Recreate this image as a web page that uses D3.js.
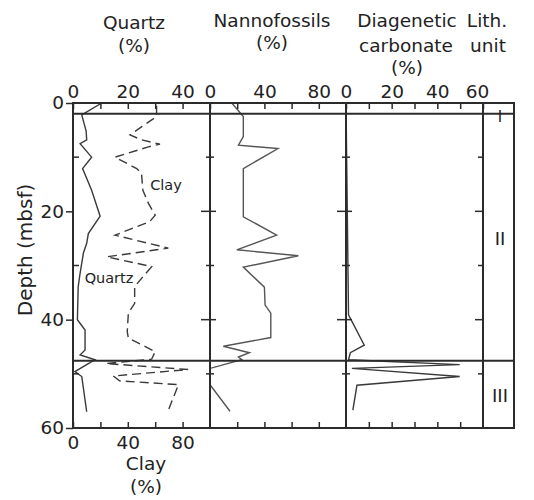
<!DOCTYPE html>
<html>
<head>
<meta charset="utf-8">
<script src="https://cdn.jsdelivr.net/npm/d3@7"></script>
<style>
  body { margin: 0; background: #fff; }
  svg text { font-family: "DejaVu Sans", sans-serif; fill: #222; }
</style>
</head>
<body>
<div id="chart"></div>
<script>
// ---- data (depth in mbsf) ----
var quartzDepth = [0, 2.2, 2.8, 5.2, 6.8, 7.5, 10.0, 12.1, 16.1, 20.9, 24.1, 25.9, 27.7, 31.4, 33.9, 40.0, 41.9, 45.6, 46.5, 47.4, 48.1, 49.6, 50.5, 57.0];
var quartzPct   = [10.5, 3.2, 3.5, 4.8, 5, 2.6, 6.8, 3.5, 6.8, 9.9, 5.6, 5, 3.8, 2.6, 1.9, 1.6, 4.4, 4.4, 2.6, 8, 5.6, 0.7, 3.2, 5];

var clayDepth = [0.5, 2.5, 4.4, 5.9, 6.8, 7.6, 8.1, 10.0, 12.1, 13.0, 16.1, 18.5, 20.7, 21.9, 24.4, 26.8, 28.4, 30.2, 32.7, 33.9, 37.0, 38.8, 42.2, 43.4, 45.9, 47.3, 48.1, 49.2, 50.4, 51.3, 52.0, 56.7];
var clayPct   = [61, 61, 50, 41.6, 50, 63.5, 55, 30.7, 46.5, 50, 51, 55, 60, 56, 30.7, 69.6, 24.6, 57.4, 49, 45, 45, 40.4, 39.6, 40.4, 60, 57.4, 24, 84, 29.4, 34, 77, 69.6];

var nannoDepth = [0, 2.5, 6.2, 7.8, 8.4, 12.1, 21.0, 24.4, 27.1, 28.2, 30.3, 34.0, 37.3, 38.8, 43.3, 44.9, 46.1, 46.9, 47.4, 49.0, 52.0, 56.9];
var nannoPct   = [16, 24.5, 24.5, 20.9, 50, 24.5, 24.5, 49, 19.7, 65, 24.5, 40, 40.5, 44.7, 44.7, 9.8, 29, 20.9, 23.4, 0, 0, 14.7];

var diagDepth = [0, 39.1, 44.7, 46.1, 47.4, 48.3, 49.0, 50.5, 52.1, 56.7];
var diagPct   = [0, 1.1, 8, 1.9, 1.1, 49.8, 2.6, 49.8, 4.8, 3];

var unitNames  = ["I", "II", "III"];
var unitLabelDepth = [2.5, 25, 54];
var unitBounds = [2.0, 47.6];

var depthTicks = [0, 10, 20, 30, 40, 50, 60];

// ---- layout ----
var W = 534, H = 500;
var top0 = 103, bot0 = 428;
var xLeft = 73, xQR = 210, xNR = 346, xDR = 483, xRight = 514;

var svg = d3.select("#chart").append("svg")
    .attr("width", W).attr("height", H);

var y = d3.scaleLinear().domain([0, 60]).range([top0, bot0]);
var xQ = d3.scaleLinear().domain([0, 50]).range([xLeft, xQR]);
var xC = d3.scaleLinear().domain([0, 100]).range([xLeft, xQR]);
var xN = d3.scaleLinear().domain([0, 100]).range([xQR, xNR]);
var xD = d3.scaleLinear().domain([0, 60]).range([xNR, xDR]);

var ink = "#2b2b2b";
var fs = "18.5px";

// ---- data lines ----
function drawSeries(depths, vals, xs, dash, col) {
    var line = d3.line()
        .x(function(d) { return xs(d[1]); })
        .y(function(d) { return y(d[0]); });
    svg.append("path")
        .datum(d3.zip(depths, vals))
        .attr("d", line)
        .attr("fill", "none")
        .attr("stroke", col)
        .attr("stroke-width", 1.4)
        .attr("stroke-dasharray", dash);
}
drawSeries(quartzDepth, quartzPct, xQ, null, "#3a3a3a");
drawSeries(clayDepth, clayPct, xC, "9,5", "#3a3a3a");
drawSeries(nannoDepth, nannoPct, xN, null, "#555");
drawSeries(diagDepth, diagPct, xD, null, "#3a3a3a");

// ---- frame ----
var frame = svg.append("g").attr("stroke", ink).attr("stroke-width", 2).attr("fill", "none");
frame.append("rect")
    .attr("x", xLeft).attr("y", top0)
    .attr("width", xRight - xLeft).attr("height", bot0 - top0);
[xQR, xNR, xDR].forEach(function(xx) {
    frame.append("line").attr("x1", xx).attr("x2", xx).attr("y1", top0).attr("y2", bot0);
});
unitBounds.forEach(function(d) {
    frame.append("line").attr("x1", xLeft).attr("x2", xRight).attr("y1", y(d)).attr("y2", y(d));
});

// depth ticks on inner dividers
var tk = svg.append("g").attr("stroke", ink).attr("stroke-width", 1.5);
depthTicks.slice(1, -1).forEach(function(d) {
    var major = (d % 20 === 0);
    [xQR, xNR].forEach(function(xx) {
        tk.append("line").attr("x1", xx - (major ? 9 : 4)).attr("x2", xx + (major ? 6 : 4))
            .attr("y1", y(d)).attr("y2", y(d));
    });
    tk.append("line").attr("x1", xDR - (major ? 8 : 5)).attr("x2", xDR)
        .attr("y1", y(d)).attr("y2", y(d));
    // minor ticks point inward on the depth axis
    if (!major) {
        tk.append("line").attr("x1", xLeft).attr("x2", xLeft + 6)
            .attr("y1", y(d)).attr("y2", y(d));
    }
});

// ---- axes ----
function styleAxis(g) {
    g.select(".domain").remove();
    g.selectAll("line").attr("stroke", ink).attr("stroke-width", 1.5);
    g.selectAll("text").attr("font-size", fs).attr("fill", "#222")
        .style("font-family", "'DejaVu Sans', sans-serif");
}

// left depth axis
svg.append("g")
    .attr("transform", "translate(" + xLeft + ",0)")
    .call(d3.axisLeft(y).tickValues([0, 20, 40, 60]).tickSize(7).tickPadding(2))
    .call(styleAxis);

// top axes
function topAxis(xs, vals, labelled) {
    var g = svg.append("g")
        .attr("transform", "translate(0," + top0 + ")")
        .call(d3.axisTop(xs).tickValues(vals).tickSizeInner(-6).tickSizeOuter(0).tickPadding(5)
            .tickFormat(function(v) { return labelled.indexOf(v) >= 0 ? v : ""; }))
        .call(styleAxis);
    return g;
}
topAxis(xQ, [0, 10, 20, 30, 40], [0, 20, 40]);
topAxis(xN, [0, 20, 40, 60, 80], [0, 40, 80]);
var dTop = topAxis(xD, [0, 10, 20, 30, 40, 50, 60], [0, 20, 40, 60]);
dTop.selectAll(".tick text").filter(function(v) { return v === 60; }).attr("dx", -6);

// bottom axes
function bottomAxis(xs, vals, labelled) {
    svg.append("g")
        .attr("transform", "translate(0," + bot0 + ")")
        .call(d3.axisBottom(xs).tickValues(vals).tickSizeInner(-6).tickSizeOuter(0).tickPadding(8)
            .tickFormat(function(v) { return labelled.indexOf(v) >= 0 ? v : ""; }))
        .call(styleAxis);
}
bottomAxis(xC, [0, 20, 40, 60, 80], [0, 40, 80]);
bottomAxis(xN, [20, 40, 60, 80], []);
bottomAxis(xD, [10, 20, 30, 40, 50], []);

// ---- titles ----
function label(txt, x, yy, size, anchor) {
    svg.append("text")
        .attr("x", x).attr("y", yy)
        .attr("font-size", size || fs)
        .attr("text-anchor", anchor || "middle")
        .text(txt);
}
label("Quartz", 134, 29);
label("(%)", 134, 52);
label("Nannofossils", 272, 27);
label("(%)", 272, 49);
label("Diagenetic", 407, 27);
label("carbonate", 406, 52);
label("(%)", 407, 74);
label("Lith.", 487, 27);
label("unit", 488, 52);
label("Clay", 146, 470);
label("(%)", 146, 493);

svg.append("text")
    .attr("transform", "translate(32,250) rotate(-90)")
    .attr("font-size", "20px")
    .attr("text-anchor", "middle")
    .text("Depth (mbsf)");

// in-plot annotations
label("Clay", 166, 190, "14.5px");
label("Quartz", 109, 283, "14.5px");

// lithologic units
unitNames.forEach(function(u, i) {
    svg.append("text")
        .attr("x", 500).attr("y", y(unitLabelDepth[i]))
        .attr("dy", "0.36em")
        .attr("font-size", i === 0 ? "15px" : "18px")
        .attr("text-anchor", "middle")
        .text(u);
});
</script>
</body>
</html>
